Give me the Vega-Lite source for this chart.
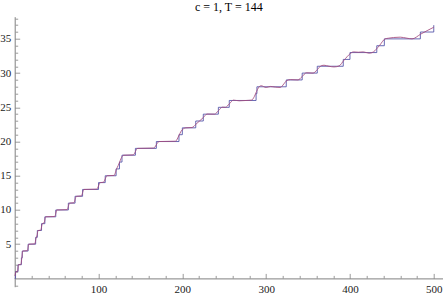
{
  "$schema": "https://vega.github.io/schema/vega-lite/v6.json",
  "width": 428.3,
  "height": 270,
  "autosize": {"type": "none"},
  "padding": {"left": 14.7, "top": 16.7, "right": 0, "bottom": 8.3},
  "background": "white",
  "title": {"text": "c = 1, T = 144", "font": "Liberation Serif", "fontSize": 12, "fontWeight": "normal", "color": "#000000", "offset": 3, "anchor": "middle"},
  "config": {"view": {"stroke": null}},
  "datasets": {
    "stairs": [
      {"x": 0, "y": 0}, {"x": 1, "y": 1}, {"x": 4, "y": 2}, {"x": 8, "y": 3}, {"x": 9, "y": 4},
      {"x": 16, "y": 5}, {"x": 25, "y": 6}, {"x": 27, "y": 7}, {"x": 32, "y": 8}, {"x": 36, "y": 9},
      {"x": 49, "y": 10}, {"x": 64, "y": 11}, {"x": 72, "y": 12}, {"x": 81, "y": 13}, {"x": 100, "y": 14},
      {"x": 108, "y": 15}, {"x": 121, "y": 16}, {"x": 125, "y": 17}, {"x": 128, "y": 18}, {"x": 144, "y": 19},
      {"x": 169, "y": 20}, {"x": 196, "y": 21}, {"x": 200, "y": 22}, {"x": 216, "y": 23}, {"x": 225, "y": 24},
      {"x": 243, "y": 25}, {"x": 256, "y": 26}, {"x": 288, "y": 27}, {"x": 289, "y": 28}, {"x": 324, "y": 29},
      {"x": 343, "y": 30}, {"x": 361, "y": 31}, {"x": 392, "y": 32}, {"x": 400, "y": 33}, {"x": 432, "y": 34},
      {"x": 441, "y": 35}, {"x": 484, "y": 36}, {"x": 500, "y": 37}
    ],
    "smooth": [
      {"x": 0.3, "y": 0.35}, {"x": 1.6, "y": 1.0}, {"x": 3.3, "y": 1.05}, {"x": 4.6, "y": 2.0}, {"x": 7.4, "y": 2.05},
      {"x": 8.5, "y": 3.0}, {"x": 9.6, "y": 4.0}, {"x": 15.0, "y": 4.05}, {"x": 16.9, "y": 5.0}, {"x": 24.0, "y": 5.05},
      {"x": 25.5, "y": 5.9}, {"x": 26.5, "y": 6.2}, {"x": 27.9, "y": 7.0}, {"x": 31.0, "y": 7.05}, {"x": 33.0, "y": 8.0},
      {"x": 35.0, "y": 8.1}, {"x": 37.0, "y": 9.0}, {"x": 47.8, "y": 9.05}, {"x": 50.3, "y": 10.0}, {"x": 62.5, "y": 10.05},
      {"x": 65.5, "y": 11.0}, {"x": 70.5, "y": 11.05}, {"x": 73.6, "y": 12.0}, {"x": 79.4, "y": 12.05}, {"x": 82.7, "y": 13.0},
      {"x": 97.8, "y": 13.05}, {"x": 102.2, "y": 14.0}, {"x": 105.8, "y": 14.05}, {"x": 110.2, "y": 15.0}, {"x": 118.6, "y": 15.05},
      {"x": 121.5, "y": 16.0}, {"x": 123.5, "y": 16.5}, {"x": 125.2, "y": 17.0}, {"x": 126.8, "y": 17.5}, {"x": 130.0, "y": 18.0},
      {"x": 141.3, "y": 18.05}, {"x": 146.7, "y": 19.0}, {"x": 165.6, "y": 19.05}, {"x": 172.4, "y": 20.0}, {"x": 191.8, "y": 20.05},
      {"x": 196.0, "y": 20.9}, {"x": 198.5, "y": 21.5}, {"x": 204.2, "y": 22.0}, {"x": 211.5, "y": 22.05}, {"x": 216.0, "y": 22.5},
      {"x": 220.5, "y": 23.0}, {"x": 225.0, "y": 23.5}, {"x": 229.5, "y": 24.02}, {"x": 238.5, "y": 24.0}, {"x": 243.0, "y": 24.5},
      {"x": 247.8, "y": 25.02}, {"x": 251.5, "y": 25.0}, {"x": 256.0, "y": 25.5}, {"x": 261.0, "y": 26.05}, {"x": 268.0, "y": 25.95},
      {"x": 276.0, "y": 26.0}, {"x": 282.5, "y": 26.05}, {"x": 286.0, "y": 26.6}, {"x": 288.5, "y": 27.3}, {"x": 291.0, "y": 27.9},
      {"x": 294.0, "y": 28.15}, {"x": 300.0, "y": 27.9}, {"x": 305.0, "y": 28.05}, {"x": 311.0, "y": 27.95}, {"x": 317.0, "y": 27.9},
      {"x": 321.0, "y": 28.4}, {"x": 324.5, "y": 28.9}, {"x": 329.0, "y": 29.05}, {"x": 338.0, "y": 29.0}, {"x": 343.0, "y": 29.5},
      {"x": 348.0, "y": 30.05}, {"x": 356.0, "y": 30.0}, {"x": 361.0, "y": 30.5}, {"x": 366.0, "y": 31.1}, {"x": 369.0, "y": 31.15},
      {"x": 375.0, "y": 31.0}, {"x": 381.0, "y": 30.9}, {"x": 387.0, "y": 31.05}, {"x": 393.0, "y": 31.9}, {"x": 400.0, "y": 32.8},
      {"x": 404.0, "y": 33.1}, {"x": 410.0, "y": 33.05}, {"x": 416.0, "y": 33.1}, {"x": 423.0, "y": 32.9}, {"x": 428.0, "y": 33.1},
      {"x": 435.0, "y": 34.0}, {"x": 442.0, "y": 35.0}, {"x": 446.0, "y": 35.1}, {"x": 452.0, "y": 35.2}, {"x": 460.0, "y": 35.25},
      {"x": 468.0, "y": 35.1}, {"x": 474.0, "y": 35.0}, {"x": 484.5, "y": 35.7}, {"x": 492.0, "y": 36.2}, {"x": 500.0, "y": 36.7}
    ]
  },
  "resolve": {"axis": {"x": "independent", "y": "independent"}},
  "layer": [
    {
      "data": {"name": "stairs"},
      "mark": {"type": "line", "interpolate": "step-after", "color": "#4f4fa6", "strokeWidth": 1, "opacity": 0.85},
      "encoding": {
        "x": {
          "field": "x", "type": "quantitative",
          "scale": {"domain": [0, 511], "nice": false, "zero": false},
          "axis": {
            "orient": "bottom", "title": null, "offset": -8.3,
            "values": [100, 200, 300, 400, 500], "format": "d",
            "labelFont": "Liberation Serif", "labelFontSize": 11, "labelColor": "#222222",
            "labelPadding": 10.5, "labelFlush": false, "labelOverlap": false, "labelBound": false,
            "domainColor": "#808080", "domainWidth": 1,
            "tickColor": "#9a9a9a", "tickWidth": 1, "tickSize": -5, "grid": false
          }
        },
        "y": {
          "field": "y", "type": "quantitative",
          "scale": {"domain": [-1.21, 38.24], "nice": false, "zero": false},
          "axis": {
            "orient": "left", "title": null,
            "values": [5, 10, 15, 20, 25, 30, 35], "format": "d",
            "labelFont": "Liberation Serif", "labelFontSize": 11, "labelColor": "#222222",
            "labelPadding": 9, "labelFlush": false, "labelOverlap": false, "labelBound": false,
            "domainColor": "#808080", "domainWidth": 1,
            "tickColor": "#9a9a9a", "tickWidth": 1, "tickSize": -5, "grid": false
          }
        }
      }
    },
    {
      "data": {"name": "smooth"},
      "mark": {"type": "line", "interpolate": "monotone", "color": "#a34a7c", "strokeWidth": 1, "opacity": 0.85},
      "encoding": {
        "x": {
          "field": "x", "type": "quantitative",
          "axis": {
            "orient": "bottom", "title": null, "offset": -8.3,
            "values": [20, 40, 60, 80, 120, 140, 160, 180, 220, 240, 260, 280, 320, 340, 360, 380, 420, 440, 460, 480],
            "labels": false, "domain": false,
            "tickColor": "#9a9a9a", "tickWidth": 1, "tickSize": -3, "grid": false
          }
        },
        "y": {
          "field": "y", "type": "quantitative",
          "axis": {
            "orient": "left", "title": null,
            "values": [-1, 1, 2, 3, 4, 6, 7, 8, 9, 11, 12, 13, 14, 16, 17, 18, 19, 21, 22, 23, 24, 26, 27, 28, 29, 31, 32, 33, 34, 36, 37, 38],
            "labels": false, "domain": false,
            "tickColor": "#9a9a9a", "tickWidth": 1, "tickSize": -3, "grid": false
          }
        }
      }
    }
  ]
}
